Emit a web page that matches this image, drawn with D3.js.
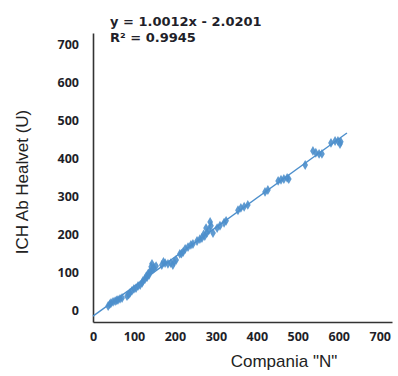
<!DOCTYPE html>
<html>
<head>
<meta charset="utf-8">
<script src="https://cdn.jsdelivr.net/npm/d3@7"></script>
<style>
  html, body { margin: 0; padding: 0; background: #fff; }
  svg { display: block; }
</style>
</head>
<body>
<svg id="chart" width="398" height="376"></svg>
<script>
// Paired measurements: Compania "N" (x) vs ICH Ab Healvet (y)
const companiaN = [37, 41, 44, 49, 54, 58, 61, 66, 71,
  83, 87, 90, 95, 100, 105, 110, 115, 120,
  122, 127, 132, 137, 139, 144, 144, 149, 154, 142, 130, 135, 147,
  168, 176, 183, 190, 198, 203, 195, 172,
  212, 220, 225, 232, 239, 244, 216,
  254, 261, 266, 273, 278, 283, 288, 286, 293, 276, 270,
  303, 310, 320, 325,
  354, 361, 369, 378,
  420, 427,
  452, 459, 466, 474, 478,
  518,
  537, 544, 552, 559,
  581, 591, 598, 605, 603];
const ichHealvet = [12, 17, 20, 23, 25, 27, 28, 31, 33,
  38, 42, 46, 52, 57, 59, 65, 67, 73,
  78, 83, 88, 94, 102, 107, 123, 112, 117, 115, 90, 98, 110,
  120, 125, 123, 125, 128, 133, 120, 128,
  149, 154, 162, 167, 173, 175, 150,
  183, 188, 191, 196, 204, 212, 223, 233, 204, 217, 200,
  217, 223, 231, 236,
  264, 270, 273, 278,
  312, 317,
  341, 344, 346, 349, 346,
  383,
  420, 415, 412, 412,
  441, 446, 446, 444, 438];

const xTicks = [0, 100, 200, 300, 400, 500, 600, 700];
const yTicks = [0, 100, 200, 300, 400, 500, 600, 700];
const equationLines = ["y = 1.0012x - 2.0201", "R\u00b2 = 0.9945"];
const xTitle = 'Compania "N"';
const yTitle = "ICH Ab Healvet (U)";

const svg = d3.select("#chart");
const blue = "#4d8fcc";
const axisColor = "#333";

const x = d3.scaleLinear().domain([0, 730]).range([93, 392]);
const y = d3.scaleLinear().domain([-30, 730]).range([322, 33]);

// Axes: plain lines, no tick marks, bold labels
const xAxis = d3.axisBottom(x).tickValues(xTicks).tickSize(0).tickPadding(10);
const yAxis = d3.axisLeft(y).tickValues(yTicks).tickSize(0).tickPadding(14);

const gx = svg.append("g").attr("transform", `translate(0,${y(-30)})`).call(xAxis);
const gy = svg.append("g").attr("transform", `translate(${x(0)},0)`).call(yAxis);
[gx, gy].forEach(g => {
  g.select(".domain").attr("stroke", axisColor).attr("stroke-width", 1.6);
  g.selectAll("text")
    .attr("font-family", "'Open Sans', sans-serif")
    .attr("font-weight", "bold")
    .attr("font-size", 12.5)
    .attr("fill", "#1f1f2a");
});
gy.selectAll("text").attr("dy", "0.35em");

// Scatter points (small diamonds)
const pts = companiaN.map((v, i) => [v, ichHealvet[i]]);
svg.append("g").selectAll("path")
  .data(pts)
  .join("path")
  .attr("d", d3.symbol().type(d3.symbolDiamond).size(28))
  .attr("transform", d => `translate(${x(d[0])},${y(d[1])})`)
  .attr("fill", blue)
  .attr("opacity", 0.9);

// Least-squares trend line through the points
const mx = d3.mean(companiaN), my = d3.mean(ichHealvet);
const slope = d3.sum(pts, d => (d[0] - mx) * (d[1] - my)) / d3.sum(pts, d => (d[0] - mx) ** 2);
const intercept = my - slope * mx;
const x0 = Math.max(0, (-30 - intercept) / slope);
const x1 = d3.max(companiaN) + 15;
svg.append("line")
  .attr("x1", x(x0)).attr("y1", y(slope * x0 + intercept))
  .attr("x2", x(x1)).attr("y2", y(slope * x1 + intercept))
  .attr("stroke", blue).attr("stroke-width", 1.4);

// Regression equation
svg.append("g").selectAll("text")
  .data(equationLines)
  .join("text")
  .attr("x", 110)
  .attr("y", (d, i) => 26 + i * 15.5)
  .attr("font-family", "'DejaVu Sans', sans-serif")
  .attr("font-weight", "bold")
  .attr("font-size", 13)
  .attr("fill", "#1f1f2a")
  .text(d => d);

// Axis titles
svg.append("text")
  .attr("x", 284).attr("y", 367)
  .attr("text-anchor", "middle")
  .attr("font-family", "'Liberation Sans', Arial, sans-serif")
  .attr("font-size", 17)
  .attr("fill", "#222")
  .text(xTitle);

svg.append("text")
  .attr("transform", "translate(28,182) rotate(-90)")
  .attr("text-anchor", "middle")
  .attr("font-family", "'Liberation Sans', Arial, sans-serif")
  .attr("font-size", 17)
  .attr("fill", "#222")
  .text(yTitle);
</script>
</body>
</html>
